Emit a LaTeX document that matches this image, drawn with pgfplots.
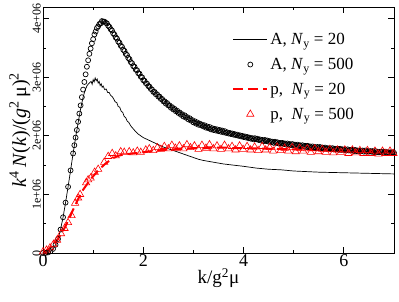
\documentclass[border=0pt]{standalone}
\usepackage{fontspec}
\setmainfont{Liberation Serif}
\usepackage{pgfplots}
\pgfplotsset{compat=1.18}
\pgfplotsset{
 lineleg/.style={legend image code/.code={\draw[##1] plot coordinates {(0cm,0cm) (1.2cm,0cm)};}},
 markleg/.style={legend image code/.code={\draw[##1] plot coordinates {(0.6cm,0cm)};}},
}
\begin{document}
\begin{tikzpicture}
\begin{axis}[name=ax, scale only axis, width=351pt, height=246pt,
 xmin=0, xmax=7, ymin=0, ymax=4.2,
 xtick={0,2,4,6}, minor xtick={1,3,5},
 ytick={0,1,2,3,4}, yticklabels={0,1e+06,2e+06,3e+06,4e+06},
 minor ytick={0.5,1.5,2.5,3.5},
 tick align=inside, major tick length=6pt, minor tick length=3pt,
 axis line style={line width=0.8pt}, tick style={line width=0.8pt, black},
 /pgf/number format/assume math mode=true,
 xticklabel style={font=\fontsize{18}{18}\selectfont, inner sep=1pt},
 yticklabel style={font=\fontsize{12}{12}\selectfont, rotate=90, anchor=south, inner sep=2pt},
 xlabel={k/g\textsuperscript{2}μ},
 ylabel={\textit{k}\textsuperscript{4}\,\textit{N}(\textit{k})/(\textit{g}\textsuperscript{2}\,μ)\textsuperscript{2}},
 xlabel style={font=\fontsize{19}{19}\selectfont, inner sep=1pt},
 ylabel style={font=\fontsize{20}{20}\selectfont, inner sep=0pt},
 legend style={draw=none, fill=none, at={(0.53,0.91)}, anchor=north west,
   font=\fontsize{17}{17}\selectfont, row sep=8pt},
 legend cell align=left,
]
% A, Ny=20
\addplot[black, line width=0.7pt, no marks, lineleg] coordinates {
(0.00,0.00) (0.05,0.00) (0.10,0.01) (0.15,0.03) (0.20,0.07) (0.25,0.14) (0.30,0.24)
(0.35,0.40) (0.40,0.61) (0.45,0.86) (0.50,1.13) (0.55,1.41) (0.60,1.70) (0.65,1.97)
(0.70,2.22) (0.75,2.46) (0.80,2.66) (0.84,2.78) (0.88,2.86) (0.92,2.90) (0.96,2.93)
(0.98,2.88) (1.00,2.96) (1.02,2.92) (1.04,2.99) (1.06,2.94) (1.08,2.97) (1.10,2.90)
(1.12,2.93) (1.14,2.86) (1.16,2.89) (1.18,2.83) (1.20,2.85) (1.23,2.79) (1.26,2.80)
(1.29,2.74) (1.32,2.74) (1.35,2.69) (1.38,2.67) (1.41,2.63) (1.44,2.58) (1.47,2.57)
(1.50,2.50) (1.53,2.49) (1.56,2.42) (1.59,2.40) (1.62,2.33) (1.65,2.31) (1.68,2.25)
(1.71,2.23) (1.75,2.17) (1.80,2.12) (1.85,2.07) (1.90,2.03) (1.95,2.00) (2.00,1.97)
(2.10,1.93) (2.20,1.89) (2.30,1.85) (2.40,1.81) (2.50,1.78) (2.60,1.75) (2.70,1.72)
(2.80,1.69) (2.90,1.66) (3.00,1.63) (3.10,1.60) (3.20,1.58) (3.40,1.55) (3.60,1.52)
(3.80,1.50) (4.00,1.48) (4.25,1.45) (4.50,1.43) (4.75,1.42) (5.00,1.40) (5.50,1.38)
(6.00,1.37) (6.50,1.36) (7.00,1.35)};
\addlegendentry{A, \textit{N}\textsubscript{y} = 20}
% A, Ny=500
\addplot[black, only marks, mark=o, mark size=2.5pt, mark options={line width=0.7pt}, markleg] coordinates {
(0.00,0.00) (0.05,0.00) (0.10,0.01) (0.15,0.03) (0.20,0.07) (0.25,0.14) (0.30,0.24)
(0.35,0.40) (0.40,0.61) (0.45,0.86) (0.50,1.13) (0.55,1.41) (0.60,1.70) (0.65,1.97)
(0.70,2.24) (0.75,2.52) (0.80,2.79) (0.85,3.05) (0.90,3.29) (0.95,3.49) (1.00,3.65)
(1.05,3.78) (1.10,3.87) (1.15,3.92) (1.20,3.95) (1.25,3.93) (1.30,3.88) (1.35,3.82)
(1.40,3.75) (1.45,3.68) (1.50,3.61) (1.55,3.54) (1.60,3.47) (1.65,3.40) (1.70,3.33)
(1.75,3.26) (1.80,3.19) (1.85,3.13) (1.90,3.07) (1.95,3.01) (2.00,2.95) (2.05,2.90)
(2.10,2.85) (2.15,2.80) (2.20,2.75) (2.25,2.71) (2.30,2.67) (2.35,2.63) (2.40,2.59)
(2.45,2.55) (2.50,2.52) (2.55,2.48) (2.60,2.45) (2.65,2.42) (2.70,2.39) (2.75,2.36)
(2.80,2.33) (2.85,2.31) (2.90,2.28) (2.95,2.26) (3.00,2.23) (3.05,2.21) (3.10,2.19)
(3.15,2.18) (3.20,2.16) (3.25,2.14) (3.30,2.13) (3.35,2.11) (3.40,2.10) (3.45,2.09)
(3.50,2.08) (3.55,2.07) (3.60,2.06) (3.65,2.05) (3.70,2.04) (3.75,2.03) (3.80,2.02)
(3.85,2.01) (3.90,2.00) (3.95,1.99) (4.00,1.98) (4.05,1.97) (4.10,1.96) (4.15,1.95)
(4.20,1.94) (4.25,1.94) (4.30,1.93) (4.35,1.92) (4.40,1.91) (4.45,1.91) (4.50,1.90)
(4.55,1.89) (4.60,1.88) (4.65,1.88) (4.70,1.87) (4.75,1.87) (4.80,1.86) (4.85,1.85)
(4.90,1.85) (4.95,1.84) (5.00,1.84) (5.05,1.83) (5.10,1.83) (5.15,1.82) (5.20,1.82)
(5.25,1.81) (5.30,1.81) (5.35,1.80) (5.40,1.80) (5.45,1.79) (5.50,1.79) (5.55,1.79)
(5.60,1.78) (5.65,1.78) (5.70,1.78) (5.75,1.77) (5.80,1.77) (5.85,1.77) (5.90,1.76)
(5.95,1.76) (6.00,1.76) (6.05,1.75) (6.10,1.75) (6.15,1.75) (6.20,1.74) (6.25,1.74)
(6.30,1.74) (6.35,1.74) (6.40,1.73) (6.45,1.73) (6.50,1.73) (6.55,1.73) (6.60,1.72)
(6.65,1.72) (6.70,1.72) (6.75,1.72) (6.80,1.71) (6.85,1.71) (6.90,1.71) (6.95,1.71)
(7.00,1.71)
(0.625,1.84) (0.675,2.10) (0.725,2.38) (0.775,2.66) (0.825,2.92) (0.875,3.18) (0.925,3.40) (0.975,3.58)
(1.025,3.73) (1.075,3.84) (1.125,3.91) (1.175,3.96) (1.225,3.95) (1.275,3.92) (1.325,3.86) (1.375,3.80)
(1.425,3.73) (1.475,3.66) (1.525,3.59) (1.575,3.52) (1.625,3.45) (1.675,3.38) (1.725,3.31) (1.775,3.24)
(1.825,3.18) (1.875,3.12) (1.925,3.06) (1.975,3.00) (2.025,2.94) (2.075,2.89) (2.125,2.84) (2.175,2.79)
(2.225,2.75) (2.275,2.71) (2.325,2.67) (2.375,2.63) (2.425,2.59) (2.475,2.56) (2.525,2.52) (2.575,2.49)
(2.625,2.46) (2.675,2.43) (2.725,2.40) (2.775,2.37) (2.825,2.35) (2.875,2.32) (2.925,2.30) (2.975,2.27)
(3.025,2.25) (3.075,2.23) (3.125,2.21) (3.175,2.19) (3.225,2.18) (3.275,2.16) (3.325,2.15) (3.375,2.13)
(3.425,2.12) (3.475,2.11) (3.525,2.10) (3.575,2.09) (3.625,2.08) (3.675,2.06) (3.725,2.05) (3.775,2.04)
(3.825,2.03) (3.875,2.02) (3.925,2.01) (3.975,2.00) (4.025,1.99) (4.075,1.98) (4.125,1.97) (4.175,1.96)
(4.225,1.96) (4.275,1.95) (4.325,1.94) (4.375,1.93) (4.425,1.93) (4.475,1.92) (4.525,1.91) (4.575,1.90)
(4.625,1.90) (4.675,1.89) (4.725,1.88) (4.775,1.88) (4.825,1.87) (4.875,1.87) (4.925,1.86) (4.975,1.86)
(5.025,1.85) (5.075,1.85) (5.125,1.84) (5.175,1.84) (5.225,1.83) (5.275,1.83) (5.325,1.82) (5.375,1.82)
(5.425,1.81) (5.475,1.81) (5.525,1.81) (5.575,1.80) (5.625,1.80) (5.675,1.79) (5.725,1.79) (5.775,1.79)
(5.825,1.78) (5.875,1.78) (5.925,1.78) (5.975,1.77) (6.025,1.77) (6.075,1.77) (6.125,1.76) (6.175,1.76)
(6.225,1.76) (6.275,1.75) (6.325,1.75) (6.375,1.75) (6.425,1.75) (6.475,1.74) (6.525,1.74) (6.575,1.74)
(6.625,1.74) (6.675,1.73) (6.725,1.73) (6.775,1.73) (6.825,1.73) (6.875,1.72) (6.925,1.72) (6.975,1.72)};
\addlegendentry{A, \textit{N}\textsubscript{y} = 500}
% p, Ny=20
\addplot[red, line width=2pt, dash pattern=on 10pt off 5pt, no marks, lineleg] coordinates {
(0.00,0.00) (0.05,0.03) (0.10,0.06) (0.15,0.10) (0.20,0.14) (0.25,0.19) (0.30,0.24)
(0.35,0.31) (0.40,0.38) (0.45,0.46) (0.50,0.55) (0.55,0.64) (0.60,0.74) (0.65,0.83)
(0.70,0.92) (0.75,1.00) (0.80,1.08) (0.85,1.14) (0.90,1.20) (0.95,1.26) (1.00,1.31)
(1.05,1.36) (1.10,1.41) (1.15,1.45) (1.20,1.49) (1.25,1.53) (1.30,1.56) (1.35,1.59)
(1.40,1.62) (1.45,1.64) (1.50,1.66) (1.60,1.68) (1.70,1.69) (1.80,1.70) (1.90,1.71)
(2.00,1.72) (2.20,1.74) (2.40,1.76) (2.60,1.77) (2.80,1.78) (3.00,1.79) (3.20,1.79)
(3.40,1.80) (3.60,1.80) (3.80,1.79) (4.00,1.79) (4.50,1.78) (5.00,1.77) (5.50,1.76)
(6.00,1.74) (6.50,1.73) (7.00,1.72)};
\addlegendentry{p,\ \ \textit{N}\textsubscript{y} = 20}
% p, Ny=500
\addplot[red, only marks, mark=triangle, mark size=4.2pt, mark options={line width=0.6pt}, markleg] coordinates {
(0.00,0.02) (0.07,0.05) (0.14,0.09) (0.21,0.15) (0.28,0.22) (0.36,0.33) (0.43,0.42)
(0.50,0.52) (0.57,0.64) (0.64,0.85) (0.70,0.94) (0.74,1.00) (0.86,1.20) (0.90,1.25)
(0.95,1.28) (1.03,1.38) (1.10,1.43) (1.22,1.55) (1.30,1.65) (1.38,1.70) (1.45,1.66)
(1.55,1.73) (1.62,1.72) (1.72,1.73) (1.80,1.71) (1.88,1.74) (1.95,1.72) (2.05,1.76)
(2.12,1.78) (2.20,1.75) (2.28,1.80) (2.35,1.77) (2.42,1.82) (2.50,1.78) (2.57,1.84)
(2.64,1.79) (2.72,1.83) (2.80,1.78) (2.87,1.85) (2.94,1.80) (3.02,1.83) (3.10,1.77)
(3.17,1.84) (3.25,1.79) (3.32,1.85) (3.40,1.78) (3.47,1.83) (3.55,1.77) (3.62,1.84)
(3.70,1.78) (3.77,1.82) (3.84,1.76) (3.92,1.83) (3.99,1.77) (4.07,1.82) (4.14,1.76)
(4.22,1.81) (4.29,1.75) (4.37,1.82) (4.44,1.76) (4.52,1.80) (4.59,1.74) (4.67,1.81)
(4.74,1.75) (4.82,1.79) (4.89,1.74) (4.97,1.80) (5.04,1.73) (5.12,1.79) (5.19,1.74)
(5.27,1.78) (5.34,1.72) (5.42,1.78) (5.49,1.73) (5.57,1.77) (5.64,1.72) (5.72,1.77)
(5.79,1.71) (5.87,1.76) (5.94,1.72) (6.02,1.76) (6.09,1.70) (6.17,1.76) (6.24,1.71)
(6.32,1.75) (6.39,1.70) (6.47,1.75) (6.54,1.70) (6.62,1.74) (6.69,1.69) (6.77,1.74)
(6.84,1.70) (6.92,1.74) (6.99,1.70)};
\addlegendentry{p,\ \ \textit{N}\textsubscript{y} = 500}
\end{axis}
\path ([xshift=-43pt,yshift=-48pt]ax.south west) rectangle ([xshift=5pt,yshift=7pt]ax.north east);
\end{tikzpicture}
\end{document}
